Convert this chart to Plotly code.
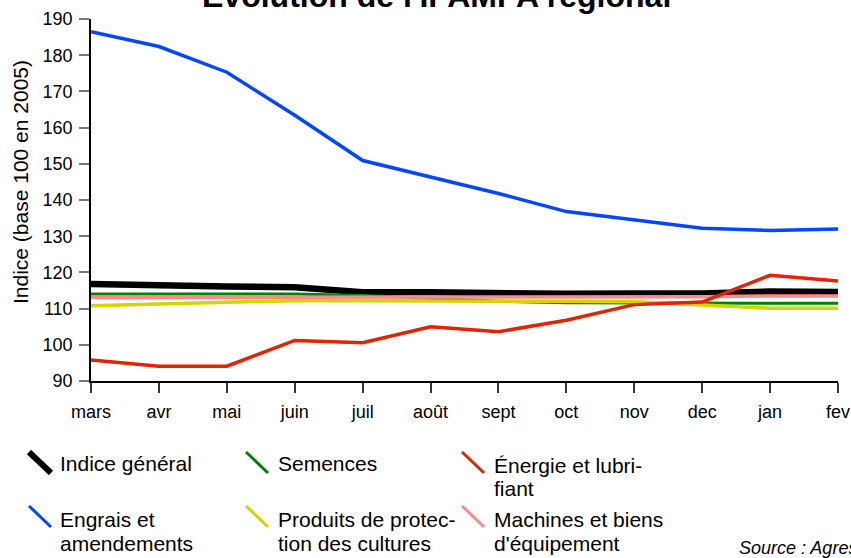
import plotly.graph_objects as go

months = ["mars", "avr", "mai", "juin", "juil", "août", "sept", "oct", "nov", "dec", "jan", "fev"]

indice_general = [116.8, 116.3, 116.1, 115.9, 114.5, 114.5, 114.1, 114.1, 114.2, 114.2, 114.7, 114.6]
semences = [114.0, 114.0, 114.0, 114.0, 113.6, 112.8, 112.0, 111.6, 111.5, 111.5, 111.5, 111.5]
produits = [110.8, 111.3, 111.9, 112.2, 112.2, 112.2, 112.1, 112.0, 111.9, 111.1, 110.1, 110.1]
machines = [113.1, 113.1, 113.1, 113.1, 113.1, 113.1, 113.1, 113.1, 113.1, 113.3, 113.5, 113.5]
engrais = [186.5, 182.4, 175.3, 163.4, 150.9, 146.4, 141.8, 136.8, 134.4, 132.2, 131.6, 132.0]
energie = [95.8, 94.1, 94.1, 101.2, 100.6, 105.0, 103.6, 106.8, 111.1, 111.8, 119.2, 117.6]

series = [
    ("Indice général", indice_general, "#000000", 6.5),
    ("Semences", semences, "#008000", 3),
    ("Produits de protection des cultures", produits, "#d4d400", 3.5),
    ("Machines et biens d'équipement", machines, "#ff8a8a", 3.5),
    ("Engrais et amendements", engrais, "#0047ff", 3.5),
    ("Énergie et lubrifiant", energie, "#e02400", 3.5),
]

FONT = "Liberation Sans, Arial, sans-serif"
W, H = 851, 558
L = 91
R = W - 838
T = 19
B = H - 381
PW, PH = W - L - R, H - T - B


def px(x):
    return (x - L) / PW


def py(y):
    return (H - B - y) / PH


fig = go.Figure()
for name, vals, color, width in series:
    fig.add_trace(go.Scatter(x=months, y=vals, mode="lines", name=name,
                             line=dict(color=color, width=width), showlegend=False))

shapes = []
annotations = []

# legend (custom)
legend_items = [
    ("#000000", 6, 29, 452, ["Indice général"], 58, [464]),
    ("#008000", 3, 246, 452, ["Semences"], 276, [464]),
    ("#e02400", 3, 462, 452, ["Énergie et lubri-", "fiant"], 492, [465, 488]),
    ("#0047ff", 3, 29, 506, ["Engrais et", "amendements"], 58, [519, 543]),
    ("#d4d400", 3, 246, 506, ["Produits de protec-", "tion des cultures"], 276, [519, 543]),
    ("#ff8a8a", 3, 462, 506, ["Machines et biens", "d'équipement"], 492, [519, 543]),
]
for color, w, sx, sy, lines, tx, tys in legend_items:
    shapes.append(dict(type="line", xref="paper", yref="paper",
                       x0=px(sx), y0=py(sy), x1=px(sx + 22), y1=py(sy + 21),
                       line=dict(color=color, width=w)))
    for line, ty in zip(lines, tys):
        annotations.append(dict(text=line, xref="paper", yref="paper", x=px(tx), y=py(ty),
                                xanchor="left", yanchor="middle", showarrow=False,
                                font=dict(family=FONT, size=21, color="#000000")))

annotations.append(dict(text="<b>Évolution de l'IPAMPA régional</b>", xref="paper", yref="paper",
                        x=px(436), y=py(-4), xanchor="center", yanchor="middle", showarrow=False,
                        font=dict(family=FONT, size=32, color="#000000")))
annotations.append(dict(text="Indice (base 100 en 2005)", xref="paper", yref="paper",
                        x=px(20), y=py(182), xanchor="center", yanchor="middle", textangle=-90,
                        showarrow=False, font=dict(family=FONT, size=21, color="#000000")))
annotations.append(dict(text="<i>Source : Agreste</i>", xref="paper", yref="paper",
                        x=px(737), y=py(548), xanchor="left", yanchor="middle", showarrow=False,
                        font=dict(family=FONT, size=18, color="#000000")))

fig.update_layout(
    width=W, height=H,
    margin=dict(l=L, r=R, t=T, b=B, autoexpand=False),
    paper_bgcolor="white", plot_bgcolor="white",
    font=dict(family=FONT, size=18, color="#000000"),
    shapes=shapes, annotations=annotations,
    showlegend=False,
)
fig.update_xaxes(type="category", range=[0, 11], showline=True, linecolor="#000000", linewidth=1.5,
                 ticks="outside", ticklen=10, tickcolor="#333333", tickwidth=1.5, showgrid=False,
                 zeroline=False, tickfont=dict(family=FONT, size=18), ticklabelstandoff=4)
fig.update_yaxes(range=[90, 190], dtick=10, showline=True, linecolor="#000000", linewidth=1.5,
                 ticks="outside", ticklen=10, tickcolor="#777777", tickwidth=1.5, showgrid=False,
                 zeroline=False, tickfont=dict(family=FONT, size=18), ticklabelstandoff=3)

fig.write_html("out.html", config={"displayModeBar": False},
               post_script="document.body.style.margin='0';document.body.style.overflow='hidden';")
